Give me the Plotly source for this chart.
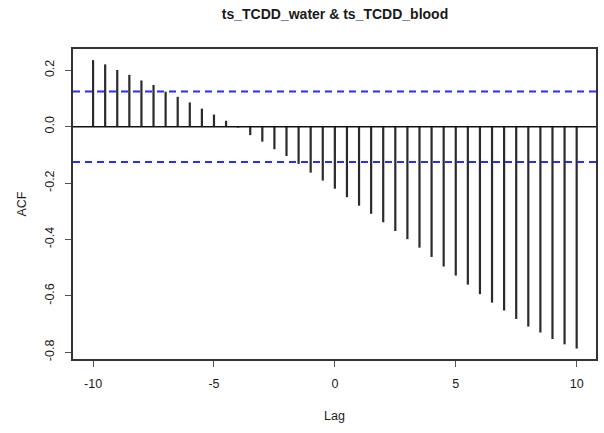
import plotly.graph_objects as go

lags = [-10, -9.5, -9, -8.5, -8, -7.5, -7, -6.5, -6, -5.5, -5, -4.5, -4, -3.5, -3,
        -2.5, -2, -1.5, -1, -0.5, 0, 0.5, 1, 1.5, 2, 2.5, 3, 3.5, 4, 4.5, 5, 5.5,
        6, 6.5, 7, 7.5, 8, 8.5, 9, 9.5, 10]
acf = [0.236, 0.221, 0.201, 0.184, 0.164, 0.148, 0.124, 0.106, 0.086, 0.064, 0.043,
       0.021, -0.003, -0.030, -0.053, -0.080, -0.104, -0.132, -0.163, -0.191, -0.220,
       -0.250, -0.280, -0.309, -0.339, -0.370, -0.399, -0.429, -0.462, -0.496, -0.528,
       -0.560, -0.594, -0.624, -0.652, -0.682, -0.709, -0.730, -0.753, -0.772, -0.787]
ci = 0.125
x_ticks = [-10, -5, 0, 5, 10]
x_tick_text = ["-10", "-5", "0", "5", "10"]
y_ticks = [-0.8, -0.6, -0.4, -0.2, 0.0, 0.2]
y_tick_text = ["-0.8", "-0.6", "-0.4", "-0.2", "0.0", "0.2"]

seg_x, seg_y = [], []
for l, v in zip(lags, acf):
    seg_x += [l, l, None]
    seg_y += [0, v, None]

fig = go.Figure()
fig.add_trace(go.Scatter(x=seg_x, y=seg_y, mode="lines",
                         line=dict(color="#2a2a2a", width=2.2), hoverinfo="skip"))

xr = [-10.83, 10.8]
yr = [-0.824, 0.2755]
fig.add_shape(type="line", xref="paper", x0=0, x1=1, yref="y", y0=0, y1=0,
              line=dict(color="#111111", width=1.5))
for c in (ci, -ci):
    fig.add_shape(type="line", xref="paper", x0=0, x1=1, yref="y", y0=c, y1=c,
                  line=dict(color="#2b2bff", width=2, dash="7px,5px"))

tc = "#1a1a1a"
font = dict(family="Liberation Sans, Arial, sans-serif", size=12, color=tc)
fig.update_layout(
    width=604, height=433,
    margin=dict(l=73, r=8, t=49, b=74, autoexpand=False),
    paper_bgcolor="white", plot_bgcolor="white",
    showlegend=False,
    title=dict(text="<b>ts_TCDD_water & ts_TCDD_blood</b>", x=335 / 604, xanchor="center",
               y=1 - 14 / 433, yanchor="middle",
               font=dict(family="Liberation Sans, Arial, sans-serif", size=14, color="#1a1a1a")),
    font=font,
)
fig.update_xaxes(range=xr, tickvals=x_ticks, ticktext=x_tick_text, ticks="outside",
                 ticklen=6, tickwidth=1, automargin=False,
                 tickcolor="#555555", showgrid=False, zeroline=False,
                 showline=True, mirror=True, linecolor="#333333", linewidth=1.5,
                 tickfont=dict(size=12.5, color=tc), ticklabelstandoff=6,
                 title=dict(text="Lag", standoff=21, font=dict(size=12.5, color=tc)))
fig.update_yaxes(range=yr, tickvals=y_ticks, ticktext=y_tick_text, tickangle=-90,
                 ticks="outside", ticklen=6, tickwidth=1, tickcolor="#555555",
                 automargin=False,
                 showgrid=False, zeroline=False,
                 showline=True, mirror=True, linecolor="#333333", linewidth=1.5,
                 tickfont=dict(size=12.5, color=tc), ticklabelstandoff=6,
                 title=dict(text="ACF", standoff=14, font=dict(size=12.5, color=tc)))

fig.write_html("out.html", config={"displayModeBar": False},
               post_script="document.body.style.margin='0';")
